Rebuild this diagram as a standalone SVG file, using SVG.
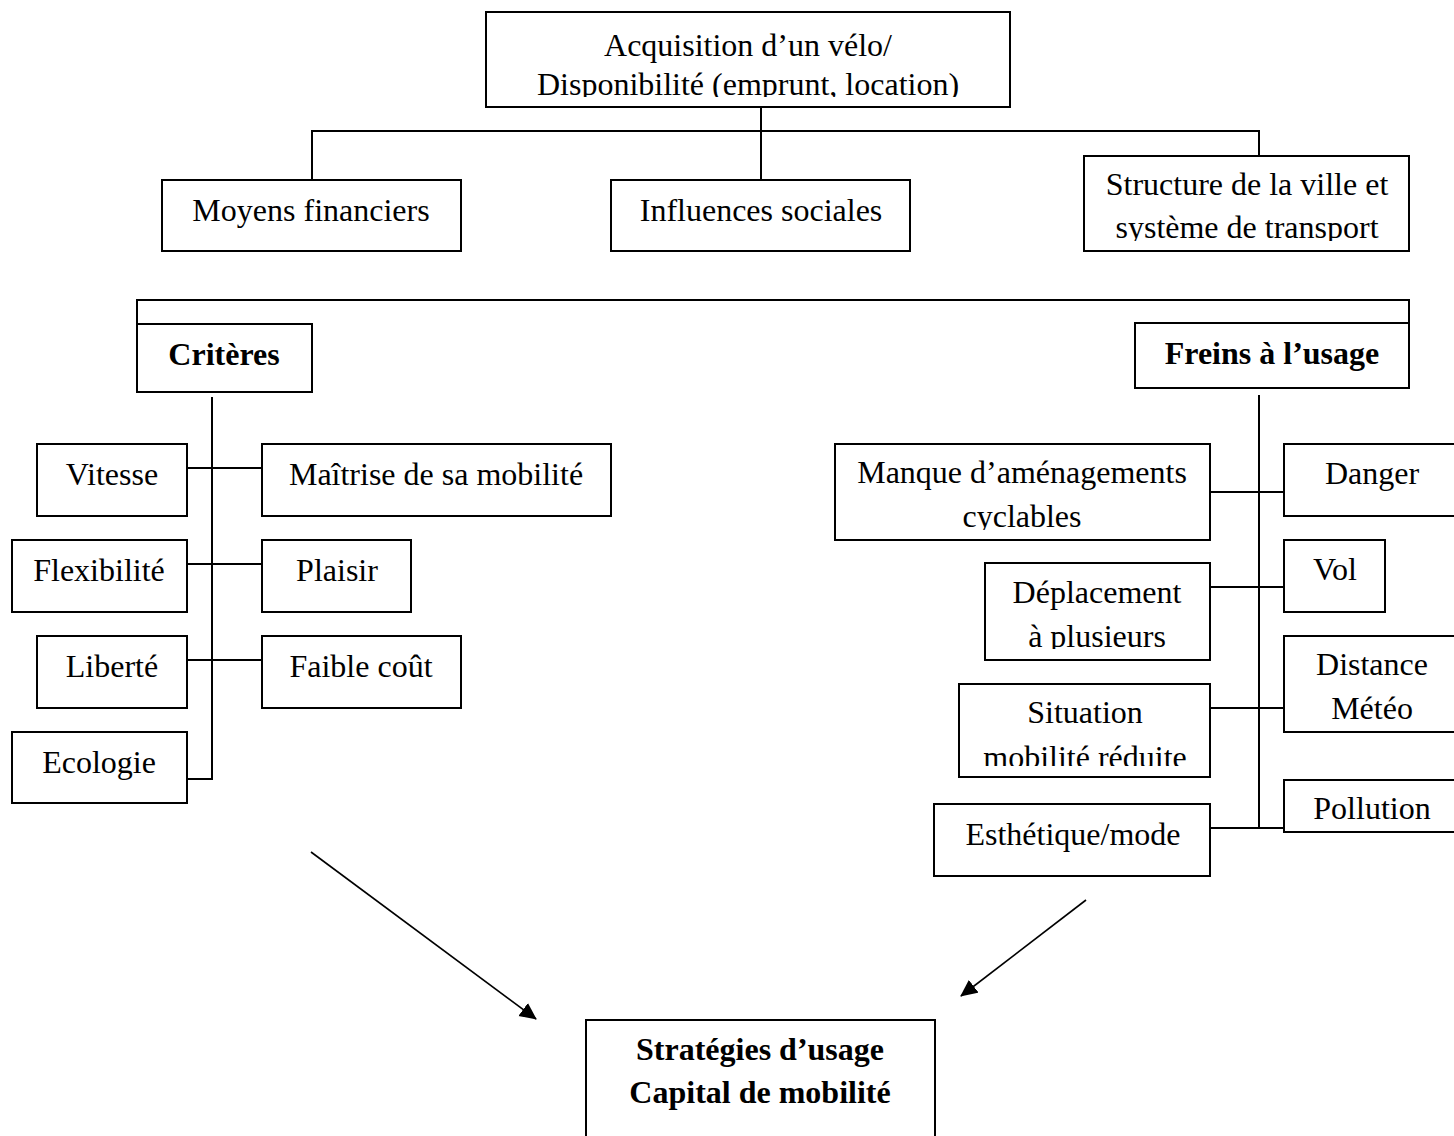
<svg xmlns="http://www.w3.org/2000/svg" width="1454" height="1136" viewBox="0 0 1454 1136">
<style>
.box{fill:#fff;stroke:#000;stroke-width:2}
.t{font-family:"Liberation Serif","Times New Roman",serif;font-size:32px;fill:#000;text-anchor:middle}
.b{font-weight:bold}
.ln{stroke:#000;stroke-width:2;fill:none}
.ar{stroke:#000;stroke-width:1.6;fill:none}
</style>
<defs>
<marker id="ah" markerUnits="userSpaceOnUse" markerWidth="20" markerHeight="18" refX="16" refY="8" orient="auto">
<path d="M0,0 L17,8 L0,16 Z" fill="#000"/>
</marker>
<clipPath id="c0"><rect x="486" y="12" width="524" height="85"/></clipPath>
<clipPath id="c1"><rect x="1084" y="156" width="325" height="85"/></clipPath>
<clipPath id="c2"><rect x="835" y="444" width="375" height="86"/></clipPath>
<clipPath id="c3"><rect x="985" y="563" width="225" height="86"/></clipPath>
<clipPath id="c4"><rect x="959" y="684" width="251" height="82"/></clipPath>
</defs>
<rect width="1454" height="1136" fill="#fff"/>
<g id="connectors">
<path class="ln" d="M761,107 V180 M312,180 V131 H1259 V156"/>
<path class="ln" d="M137,324 V300 H1409 V323"/>
<path class="ln" d="M212,397 V779 H187 M187,468 H262 M187,564 H262 M187,660 H262"/>
<path class="ln" d="M1259,395 V828 M1210,828 H1284 M1210,492 H1284 M1210,587 H1284 M1210,708 H1284"/>
<line class="ar" x1="311" y1="852" x2="536" y2="1019" marker-end="url(#ah)"/>
<line class="ar" x1="1086" y1="900" x2="961" y2="996" marker-end="url(#ah)"/>
</g>
<g id="n-acquisition">
<rect class="box" x="486" y="12" width="524" height="95"/>
<g clip-path="url(#c0)">
<text class="t" x="748" y="56">Acquisition d’un vélo/</text>
<text class="t" x="748" y="95">Disponibilité (emprunt, location)</text>
</g>
</g>
<g id="n-moyens">
<rect class="box" x="162" y="180" width="299" height="71"/>
<text class="t" x="311" y="221">Moyens financiers</text>
</g>
<g id="n-influences">
<rect class="box" x="611" y="180" width="299" height="71"/>
<text class="t" x="761" y="221">Influences sociales</text>
</g>
<g id="n-structure">
<rect class="box" x="1084" y="156" width="325" height="95"/>
<g clip-path="url(#c1)">
<text class="t" x="1247" y="195">Structure de la ville et</text>
<text class="t" x="1247" y="238">système de transport</text>
</g>
</g>
<g id="n-criteres">
<rect class="box" x="137" y="324" width="175" height="68"/>
<text class="t b" x="224" y="365">Critères</text>
</g>
<g id="n-freins">
<rect class="box" x="1135" y="323" width="274" height="65"/>
<text class="t b" x="1272" y="364">Freins à l’usage</text>
</g>
<g id="n-vitesse">
<rect class="box" x="37" y="444" width="150" height="72"/>
<text class="t" x="112" y="485">Vitesse</text>
</g>
<g id="n-maitrise">
<rect class="box" x="262" y="444" width="349" height="72"/>
<text class="t" x="436" y="485">Maîtrise de sa mobilité</text>
</g>
<g id="n-flexibilite">
<rect class="box" x="12" y="540" width="175" height="72"/>
<text class="t" x="99" y="581">Flexibilité</text>
</g>
<g id="n-plaisir">
<rect class="box" x="262" y="540" width="149" height="72"/>
<text class="t" x="337" y="581">Plaisir</text>
</g>
<g id="n-liberte">
<rect class="box" x="37" y="636" width="150" height="72"/>
<text class="t" x="112" y="677">Liberté</text>
</g>
<g id="n-faible">
<rect class="box" x="262" y="636" width="199" height="72"/>
<text class="t" x="361" y="677">Faible coût</text>
</g>
<g id="n-ecologie">
<rect class="box" x="12" y="732" width="175" height="71"/>
<text class="t" x="99" y="773">Ecologie</text>
</g>
<g id="n-manque">
<rect class="box" x="835" y="444" width="375" height="96"/>
<g clip-path="url(#c2)">
<text class="t" x="1022" y="483">Manque d’aménagements</text>
<text class="t" x="1022" y="527">cyclables</text>
</g>
</g>
<g id="n-danger">
<rect class="box" x="1284" y="444" width="180" height="72"/>
<text class="t" x="1372" y="484">Danger</text>
</g>
<g id="n-deplacement">
<rect class="box" x="985" y="563" width="225" height="97"/>
<g clip-path="url(#c3)">
<text class="t" x="1097" y="603">Déplacement</text>
<text class="t" x="1097" y="647">à plusieurs</text>
</g>
</g>
<g id="n-vol">
<rect class="box" x="1284" y="540" width="101" height="72"/>
<text class="t" x="1335" y="580">Vol</text>
</g>
<g id="n-situation">
<rect class="box" x="959" y="684" width="251" height="93"/>
<g clip-path="url(#c4)">
<text class="t" x="1085" y="723">Situation</text>
<text class="t" x="1085" y="768">mobilité réduite</text>
</g>
</g>
<g id="n-distance">
<rect class="box" x="1284" y="636" width="180" height="96"/>
<text class="t" x="1372" y="675">Distance</text>
<text class="t" x="1372" y="719">Météo</text>
</g>
<g id="n-esthetique">
<rect class="box" x="934" y="804" width="276" height="72"/>
<text class="t" x="1073" y="845">Esthétique/mode</text>
</g>
<g id="n-pollution">
<rect class="box" x="1284" y="780" width="180" height="52"/>
<text class="t" x="1372" y="819">Pollution</text>
</g>
<g id="n-strategies">
<rect class="box" x="586" y="1020" width="349" height="130"/>
<text class="t b" x="760" y="1060">Stratégies d’usage</text>
<text class="t b" x="760" y="1103">Capital de mobilité</text>
</g>
</svg>
